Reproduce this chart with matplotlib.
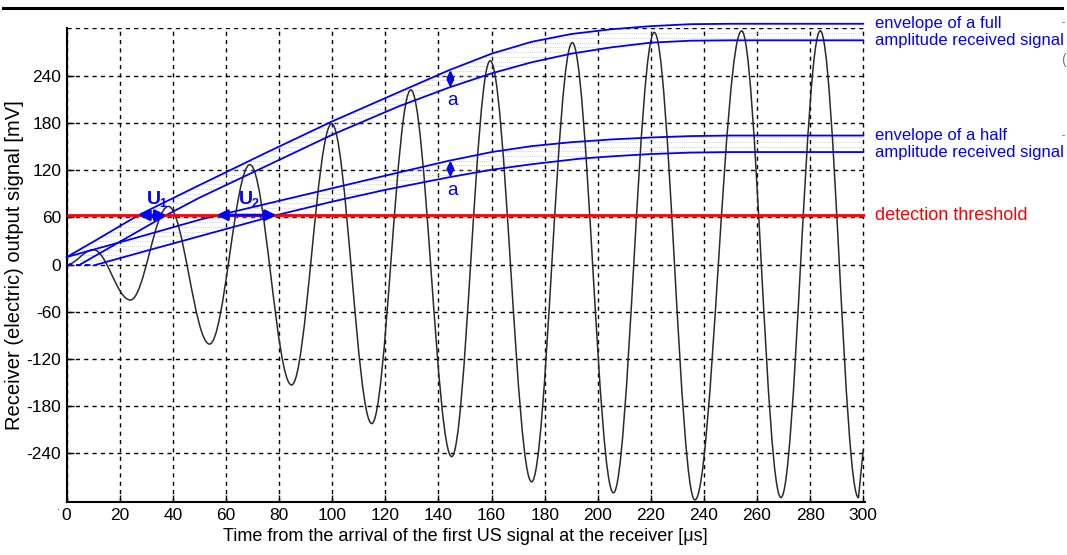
import numpy as np
import matplotlib
matplotlib.use('Agg')
import matplotlib.pyplot as plt
from matplotlib.path import Path
from matplotlib.patches import PathPatch, Polygon
from matplotlib.lines import Line2D

plt.rcParams['font.family'] = ['Liberation Sans', 'DejaVu Sans']
plt.rcParams['axes.unicode_minus'] = False

# received signal, extrema (time [us], level [mV])
sig_t = [0, 10, 24, 38.3, 53.8, 69, 84.7, 99.8, 114.9, 129.6, 145, 159.5, 175.1,
         190.4, 205.9, 221.3, 236.6, 254.2, 269, 283.8, 298.2]
sig_v = [0, 19, -45, 74, -101, 127, -153, 179, -202, 222, -244, 259, -276,
         282, -290, 295, -299, 297, -296, 297, -296]
sig_end = (300, -235)

# envelope of a full amplitude signal (upper / lower)
full_hi_t = [0, 10, 27, 50, 75, 100, 125, 144, 160, 175, 190, 205, 220, 235, 250, 300]
full_hi_v = [9.6, 29, 62.8, 101, 142, 182, 219, 247, 268, 283, 293, 299, 303, 305.5, 306, 306]
full_lo_t = [5, 20, 37.5, 50, 75, 100, 125, 144, 160, 175, 190, 205, 220, 235, 250, 300]
full_lo_v = [0, 29, 62.8, 85, 125, 165, 201, 225, 243, 257, 268, 276, 282, 284.5, 285, 285]

# envelope of a half amplitude signal (upper / lower)
half_hi_t = [0, 25, 50, 75, 100, 125, 144, 160, 175, 190, 205, 220, 235, 250, 300]
half_hi_v = [9.6, 33, 57, 77, 97, 117, 132, 143, 150.5, 155.5, 159, 161.5, 163.3, 164, 164]
half_lo_t = [11.3, 30, 50, 79, 100, 120, 144, 160, 175, 193, 205, 220, 235, 250, 300]
half_lo_v = [0, 17.5, 36, 62.8, 80, 95, 111, 120.5, 127.5, 134.5, 137.5, 140.5, 142.3, 143, 143]
base_t = [0, 11.3]

threshold = 62.8
u1 = (27, 37.5)
u2 = (56.4, 79)
a_t = 144.5
a_full = (247, 225)
a_half = (132, 111)

blue = '#0000ff'
red = '#ff0000'

fig = plt.figure(figsize=(10.67, 5.55), dpi=100)
ax = fig.add_axes([0.0625, 0.095, 0.7478, 0.8545])
ax.set_xlim(0, 300.5)
ax.set_ylim(-302, 300.6)

ax.set_xticks(range(0, 301, 20))
ax.set_yticks(range(-240, 241, 60))
ax.grid(True, color='k', linestyle=(0, (3, 3)), lw=1)
ax.axhline(300, color='k', linestyle=(0, (3, 3)), lw=1)
ax.set_axisbelow(True)
for s in ['top', 'right']:
    ax.spines[s].set_visible(False)
for s in ['left', 'bottom']:
    ax.spines[s].set_linewidth(1.5)
ax.tick_params(direction='in', length=5, width=1, labelsize=12.5, pad=4)

ax.set_xlabel('Time from the arrival of the first US signal at the receiver [\u03bcs]', fontsize=13, labelpad=4)
ax.set_ylabel('Receiver (electric) output signal [mV]', fontsize=14.5, labelpad=2)


def hatch_between(t_hi, v_hi, t_lo, v_lo):
    pts = list(zip(t_hi, v_hi)) + list(zip(t_lo, v_lo))[::-1]
    poly = Polygon(pts, closed=True, facecolor='none', edgecolor='none')
    ax.add_patch(poly)
    hl = ax.hlines(np.arange(0, 310, 6), 0, 300, colors='#c0c0c0',
                   linestyles=(0, (1, 1.5)), lw=0.6, zorder=1.5)
    hl.set_clip_path(poly)


hatch_between(full_hi_t, full_hi_v, full_lo_t, full_lo_v)
hatch_between(half_hi_t, half_hi_v, half_lo_t, half_lo_v)

# signal trace: smooth half waves between the read extrema
verts = [(sig_t[0], sig_v[0])]
codes = [Path.MOVETO]
for t0, v0, t1, v1 in zip(sig_t[:-1], sig_v[:-1], sig_t[1:], sig_v[1:]):
    d = 0.3634 * (t1 - t0)
    verts += [(t0 + d, v0), (t1 - d, v1), (t1, v1)]
    codes += [Path.CURVE4] * 3
verts.append(sig_end)
codes.append(Path.LINETO)
ax.add_patch(PathPatch(Path(verts, codes), fill=False, edgecolor='#2a2a2a', lw=1.1, zorder=3))

# envelopes
for tt, vv in [(full_hi_t, full_hi_v), (full_lo_t, full_lo_v),
               (half_hi_t, half_hi_v), (half_lo_t, half_lo_v)]:
    ax.plot(tt, vv, color=blue, lw=1.3, zorder=4, clip_on=False)
ax.plot(base_t, [0, 0], color=blue, lw=1.3, dashes=(3, 2), zorder=4)

ax.axhline(threshold, color=red, lw=2, zorder=5)

arrow = dict(arrowstyle='<|-|>', color=blue, lw=2, mutation_scale=16, shrinkA=0, shrinkB=0)
for x0, x1 in [u1, u2]:
    ax.annotate('', xy=(x0, threshold), xytext=(x1, threshold), arrowprops=arrow, zorder=6)
for xu, sub in [(33.0, '1'), (67.6, '2')]:
    ax.text(xu, 83, 'U', color=blue, fontsize=14, fontweight='bold', ha='center', va='center', zorder=6)
    ax.text(xu + 3.2, 77, sub, color=blue, fontsize=9, fontweight='bold', ha='center', va='center', zorder=6)

small = dict(arrowstyle='<|-|>', color=blue, lw=1.5, mutation_scale=10, shrinkA=0, shrinkB=0)
for top, bot in [a_full, a_half]:
    ax.annotate('', xy=(a_t, top), xytext=(a_t, bot), arrowprops=small, zorder=6)
    ax.text(a_t + 0.7, bot - 17, 'a', color=blue, fontsize=13.5, ha='center', va='center', zorder=6)

tx = 304.3
ax.text(tx, full_hi_v[-1], 'envelope of a full', color=blue, fontsize=12, va='center', clip_on=False)
ax.text(tx, full_lo_v[-1], 'amplitude received signal', color=blue, fontsize=12, va='center', clip_on=False)
ax.text(tx, half_hi_v[-1], 'envelope of a half', color=blue, fontsize=12, va='center', clip_on=False)
ax.text(tx, half_lo_v[-1], 'amplitude received signal', color=blue, fontsize=12, va='center', clip_on=False)
ax.text(tx, threshold, 'detection threshold', color=red, fontsize=13, va='center', clip_on=False)

# frame line on top of the page and small marks
fig.add_artist(Line2D([3 / 1067, 1062 / 1067], [1 - 7.5 / 555] * 2, color='k', lw=2.2))
fig.text(57 / 1067, 1 - 507 / 555, '.', fontsize=7, ha='center', va='center')
for yy in [22, 135]:
    fig.text(1063 / 1067, 1 - yy / 555, '-', fontsize=7, color='#555555', ha='center', va='center')
fig.text(1064 / 1067, 1 - 60 / 555, '(', fontsize=10, color='#777777', ha='center', va='center')

fig.savefig('out.png', dpi=100)
